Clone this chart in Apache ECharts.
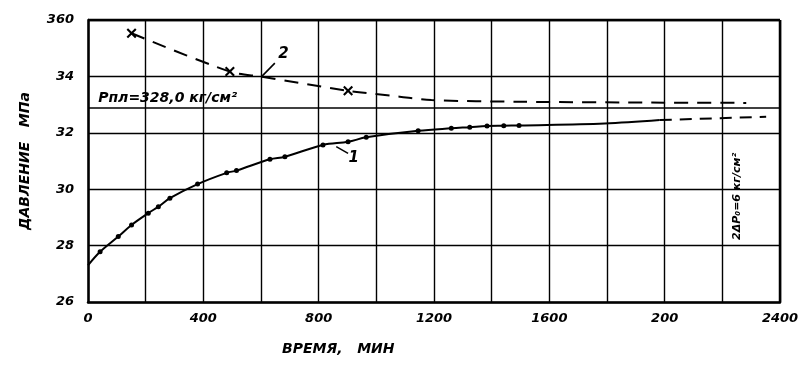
<!DOCTYPE html>
<html><head><meta charset="utf-8">
<script src="https://cdn.jsdelivr.net/npm/echarts@6/dist/echarts.min.js"></script>
<style>html,body{margin:0;padding:0;background:#fff}#c{width:808px;height:376px}</style>
</head><body><div id="c"></div>
<script>
// x ticks (min) and their printed labels (as in original)
const xTicks = [0,200,400,600,800,1000,1200,1400,1600,1800,2000,2200,2400];
const xTickLabels = ['0','','400','','800','','1200','','1600','','200','','2400'];
const yTicks = [26,28,30,32,34,36];
const yTickLabels = ['26','28','30','32','34','360'];

// Curve 1 – measured points (dots)
const curve1Time = [0,42,105,151,209,244,284,380,481,515,631,683,815,902,965,1145,1260,1324,1384,1442,1495,1792,1983];
const curve1Pres = [27.3,27.78,28.32,28.73,29.15,29.38,29.68,30.18,30.58,30.66,31.06,31.15,31.57,31.68,31.84,32.07,32.16,32.2,32.24,32.25,32.26,32.33,32.45];
const curve1Marked = [0,1,1,1,1,1,1,1,1,1,1,1,1,1,1,1,1,1,1,1,1,0,0];
// Curve 1 extrapolation (dashed)
const curve1ExtTime = [1983,2352];
const curve1ExtPres = [32.45,32.57];

// Curve 2 (dashed, crosses)
const curve2Time = [151,492,602,902,1081,1191,1500,2000,2283];
const curve2Pres = [35.53,34.17,33.99,33.49,33.28,33.16,33.1,33.07,33.06];
const curve2Marked = [1,1,0,1,0,0,0,0,0];

// Reservoir pressure line
const pResLine = 32.88;
const pResText = 'Рпл=328,0 кг/см²';
const deltaText = '2ΔP₀=6 кг/см²';

const font = 'DejaVu Sans';
const cross = 'path://M0,1.5L1.5,0L5,3.5L8.5,0L10,1.5L6.5,5L10,8.5L8.5,10L5,6.5L1.5,10L0,8.5L3.5,5Z';

const c1 = curve1Time.map((t,i)=>({value:[t,curve1Pres[i]], symbol: curve1Marked[i]?'circle':'none'}));
const c1e = curve1ExtTime.map((t,i)=>[t,curve1ExtPres[i]]);
const c2 = curve2Time.map((t,i)=>({value:[t,curve2Pres[i]], symbol: curve2Marked[i]?cross:'none'}));

const txt = {color:'#000', fontFamily:font, fontStyle:'italic', fontWeight:'bold', fontSize:13};

const chart = echarts.init(document.getElementById('c'));
chart.setOption({
  animation:false,
  backgroundColor:'#fff',
  grid:{left:88,right:28,top:20,bottom:74},
  xAxis:{type:'value',min:0,max:2400,interval:200,
    axisLine:{lineStyle:{color:'#000',width:2.5}},
    axisTick:{show:false},
    splitLine:{lineStyle:{color:'#000',width:1.4}},
    axisLabel:Object.assign({},txt,{margin:10,formatter:v=>{const i=xTicks.indexOf(v);return i>=0?xTickLabels[i]:'';}})
  },
  yAxis:{type:'value',min:26,max:36,interval:2,
    name:'ДАВЛЕНИЕ   МПа',nameLocation:'middle',nameGap:56,nameRotate:90,
    nameTextStyle:Object.assign({},txt,{fontSize:14}),
    axisLine:{show:true,lineStyle:{color:'#000',width:2.5}},
    axisTick:{show:false},
    splitLine:{lineStyle:{color:'#000',width:1.4}},
    axisLabel:Object.assign({},txt,{margin:14,formatter:v=>{const i=yTicks.indexOf(v);return i>=0?yTickLabels[i]:'';}})
  },
  graphic:[
    {type:'text',left:282,top:342,style:{text:'ВРЕМЯ,   МИН',fill:'#000',font:'italic bold 14px "DejaVu Sans"'}},
    {type:'line',shape:{x1:780,y1:20,x2:780,y2:302},style:{stroke:'#000',lineWidth:2.5}},
    {type:'line',shape:{x1:88,y1:20,x2:780,y2:20},style:{stroke:'#000',lineWidth:2.5}}
  ],
  series:[
    {type:'line',data:c1,smooth:0.35,symbolSize:5,
      lineStyle:{color:'#000',width:2},itemStyle:{color:'#000'},
      markLine:{silent:true,symbol:'none',
        data:[
          [{coord:[0,pResLine]},{coord:[2400,pResLine]}],
          [{coord:[861,31.51]},{coord:[902,31.27]}]
        ],
        lineStyle:{color:'#000',width:1.6,type:'solid'},
        label:{show:false}
      },
      markPoint:{symbol:'circle',symbolSize:0,
        data:[
          {coord:[18,pResLine],label:Object.assign({show:true,formatter:pResText,position:'insideLeft',align:'left',verticalAlign:'bottom',offset:[0,-3]},txt,{fontSize:14})},
          {coord:[922,31.1],label:Object.assign({show:true,formatter:'1'},txt,{fontSize:15})},
          {coord:[2253,29.75],label:Object.assign({show:true,formatter:deltaText,rotate:90},txt,{fontSize:11})}
        ]
      }
    },
    {type:'line',data:c1e,symbol:'none',lineStyle:{color:'#000',width:2,type:[12,8]}},
    {type:'line',data:c2,symbolSize:10,smooth:0.3,
      lineStyle:{color:'#000',width:2,type:[14,9]},itemStyle:{color:'#000'},
      markLine:{silent:true,symbol:'none',
        data:[[{coord:[602,33.99]},{coord:[648,34.47]}]],
        lineStyle:{color:'#000',width:1.6,type:'solid'},label:{show:false}},
      markPoint:{symbol:'circle',symbolSize:0,
        data:[{coord:[678,34.78],label:Object.assign({show:true,formatter:'2'},txt,{fontSize:15})}]}
    }
  ]
});
</script></body></html>
